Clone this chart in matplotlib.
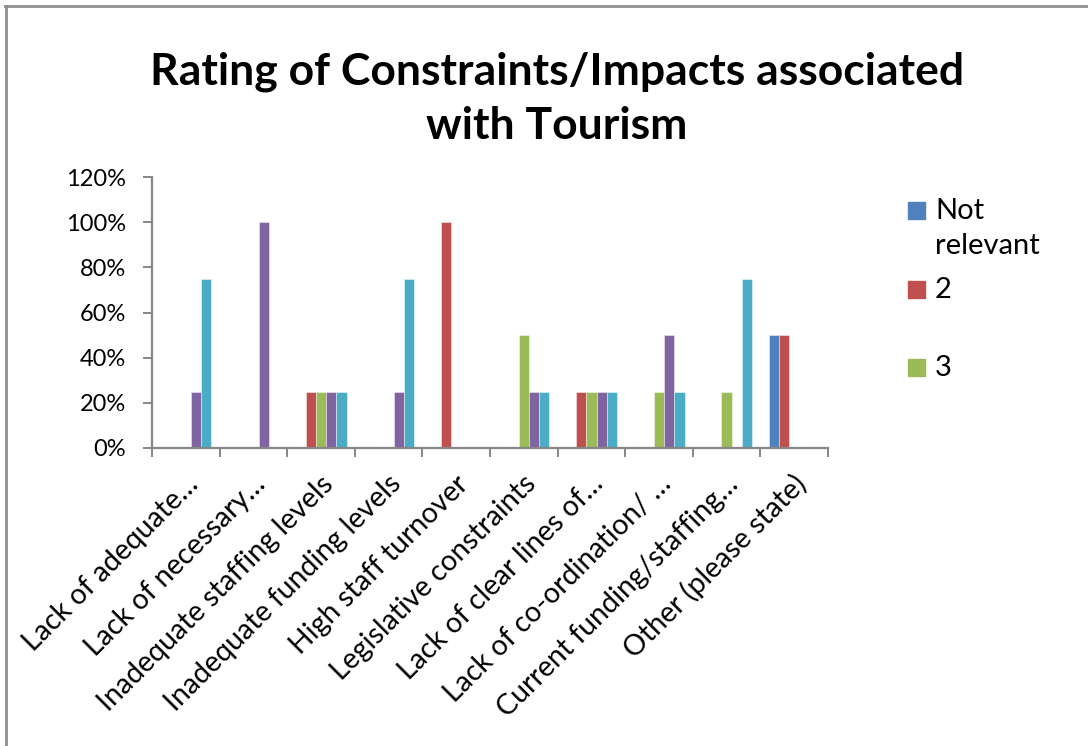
import matplotlib
matplotlib.use('Agg')
import matplotlib.pyplot as plt
from matplotlib.lines import Line2D
from matplotlib.patches import Rectangle
from matplotlib.transforms import ScaledTranslation
import numpy as np

plt.rcParams['font.family'] = ['Lato', 'DejaVu Sans']

# survey answers, share of respondents per rating
categories = ['Lack of adequate…', 'Lack of necessary…', 'Inadequate staffing levels',
              'Inadequate funding levels', 'High staff turnover', 'Legislative constraints',
              'Lack of clear lines of…', 'Lack of co-ordination/ …',
              'Current funding/staffing…', 'Other (please state)']
series_names = ['Not relevant', '2', '3', '4', '5']
not_relevant = [0, 0, 0, 0, 0, 0, 0, 0, 0, 0.50]
rating_2 = [0, 0, 0.25, 0, 1.00, 0, 0.25, 0, 0, 0.50]
rating_3 = [0, 0, 0.25, 0, 0, 0.50, 0.25, 0.25, 0.25, 0]
rating_4 = [0.25, 1.00, 0.25, 0.25, 0, 0.25, 0.25, 0.50, 0, 0]
rating_5 = [0.75, 0, 0.25, 0.75, 0, 0.25, 0.25, 0.25, 0.75, 0]
series = [not_relevant, rating_2, rating_3, rating_4, rating_5]
colors = ['#4F81BD', '#C0504D', '#9BBB59', '#8064A2', '#4BACC6']
legend_labels = ['Not\nrelevant', '2', '3']   # only three fit in the legend box
y_ticks = [0, 0.2, 0.4, 0.6, 0.8, 1.0, 1.2]

W, H = 1088, 746
fig = plt.figure(figsize=(W / 100, H / 100), dpi=100)
ax = fig.add_axes([152 / W, 1 - 448 / H, (828 - 152) / W, (448 - 177) / H])

x = np.arange(len(categories))
w = 0.152
for i, vals in enumerate(series):
    ax.bar(x + (i - 2) * w, vals, w, color=colors[i],
           edgecolor=(1, 1, 1, 0.5), linewidth=0.6)

axis_grey = '#868686'
ax.set_xlim(-0.5, len(categories) - 0.5)
ax.set_ylim(0, 1.2)
for s in ['top', 'right']:
    ax.spines[s].set_visible(False)
for s in ['left', 'bottom']:
    ax.spines[s].set_color(axis_grey)
    ax.spines[s].set_linewidth(1.6)

ax.set_yticks(y_ticks)
ax.set_yticklabels(['%d%%' % round(v * 100) for v in y_ticks])
ax.tick_params(axis='y', length=6.5, width=1.4, color=axis_grey, pad=12, labelsize=17)

# ticks sit between the groups, labels under the group centres
ax.set_xticks(np.arange(len(categories) + 1) - 0.5)
ax.set_xticklabels([])
ax.set_xticks(x, minor=True)
ax.set_xticklabels(categories, minor=True)
ax.tick_params(axis='x', which='major', length=6.5, width=1.4, color=axis_grey)
ax.tick_params(axis='x', which='minor', length=0, pad=23, labelsize=20.5)
shift = ScaledTranslation(0.08, 0, fig.dpi_scale_trans)
for lab in ax.get_xticklabels(minor=True):
    lab.set_rotation(45)
    lab.set_ha('right')
    lab.set_va('center')
    lab.set_rotation_mode('anchor')
    lab.set_transform(lab.get_transform() + shift)

# title
fig.text(557 / W, 1 - 84 / H, 'Rating of Constraints/Impacts associated',
         ha='center', va='baseline', fontsize=32, fontweight='bold')
fig.text(557 / W, 1 - 139 / H, 'with Tourism',
         ha='center', va='baseline', fontsize=32, fontweight='bold')

# legend
for i, lab in enumerate(legend_labels):
    top = 202 + i * 78.5
    fig.add_artist(Rectangle((908 / W, 1 - (top + 17) / H), 17 / W, 17 / H,
                             transform=fig.transFigure, color=colors[i]))
    fig.text(935 / W, 1 - (top - 4) / H, lab, ha='left', va='top',
             fontsize=21, linespacing=1.45)

# chart area border (top and left edges only)
fig.add_artist(Line2D([5 / W, 1], [1 - 6 / H, 1 - 6 / H], color='#8f8f8f', lw=2))
fig.add_artist(Line2D([6 / W, 6 / W], [0, 1 - 6 / H], color='#8f8f8f', lw=2))

fig.savefig('out.png', dpi=100)
